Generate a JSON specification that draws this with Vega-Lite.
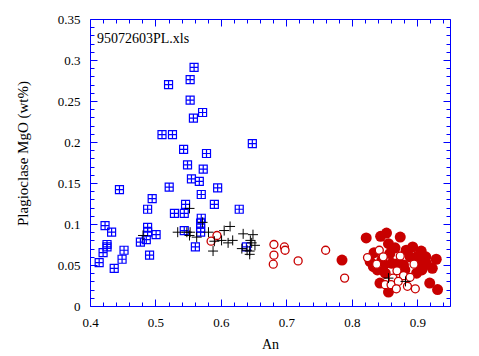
{
  "$schema": "https://vega.github.io/schema/vega-lite/v6.json",
  "width": 360,
  "height": 287,
  "autosize": "none",
  "padding": {"left": 90, "top": 19, "right": 29, "bottom": 50},
  "background": "white",
  "config": {
    "font": "Liberation Serif",
    "view": {"stroke": null},
    "axis": {
      "labelFont": "Liberation Serif",
      "labelFontSize": 13,
      "labelColor": "black",
      "titleFont": "Liberation Serif",
      "titleFontWeight": "normal",
      "titleColor": "black",
      "domainColor": "#0000ff",
      "tickColor": "#0000ff",
      "grid": false,
      "offset": 0
    }
  },
  "title": {
    "text": "95072603PL.xls",
    "anchor": "start",
    "orient": "top",
    "frame": "group",
    "offset": 0,
    "baseline": "top",
    "dx": 7,
    "dy": 33,
    "font": "Liberation Serif",
    "fontSize": 14,
    "fontWeight": "normal",
    "color": "black"
  },
  "data": {
    "values": [
      {"type": "sq", "An": 0.559, "MgO": 0.291},
      {"type": "sq", "An": 0.553, "MgO": 0.276},
      {"type": "sq", "An": 0.520, "MgO": 0.270},
      {"type": "sq", "An": 0.553, "MgO": 0.251},
      {"type": "sq", "An": 0.572, "MgO": 0.236},
      {"type": "sq", "An": 0.558, "MgO": 0.229},
      {"type": "sq", "An": 0.510, "MgO": 0.209},
      {"type": "sq", "An": 0.526, "MgO": 0.209},
      {"type": "sq", "An": 0.648, "MgO": 0.198},
      {"type": "sq", "An": 0.543, "MgO": 0.191},
      {"type": "sq", "An": 0.578, "MgO": 0.186},
      {"type": "sq", "An": 0.549, "MgO": 0.172},
      {"type": "sq", "An": 0.573, "MgO": 0.167},
      {"type": "sq", "An": 0.555, "MgO": 0.155},
      {"type": "sq", "An": 0.567, "MgO": 0.152},
      {"type": "sq", "An": 0.445, "MgO": 0.142},
      {"type": "sq", "An": 0.521, "MgO": 0.145},
      {"type": "sq", "An": 0.595, "MgO": 0.144},
      {"type": "sq", "An": 0.495, "MgO": 0.131},
      {"type": "sq", "An": 0.570, "MgO": 0.136},
      {"type": "sq", "An": 0.590, "MgO": 0.124},
      {"type": "sq", "An": 0.628, "MgO": 0.118},
      {"type": "sq", "An": 0.546, "MgO": 0.124},
      {"type": "sq", "An": 0.488, "MgO": 0.118},
      {"type": "sq", "An": 0.529, "MgO": 0.113},
      {"type": "sq", "An": 0.544, "MgO": 0.113},
      {"type": "sq", "An": 0.570, "MgO": 0.107},
      {"type": "sq", "An": 0.569, "MgO": 0.101},
      {"type": "sq", "An": 0.569, "MgO": 0.095},
      {"type": "sq", "An": 0.569, "MgO": 0.090},
      {"type": "sq", "An": 0.423, "MgO": 0.098},
      {"type": "sq", "An": 0.433, "MgO": 0.090},
      {"type": "sq", "An": 0.488, "MgO": 0.096},
      {"type": "sq", "An": 0.488, "MgO": 0.090},
      {"type": "sq", "An": 0.501, "MgO": 0.087},
      {"type": "sq", "An": 0.544, "MgO": 0.092},
      {"type": "sq", "An": 0.486, "MgO": 0.081},
      {"type": "sq", "An": 0.477, "MgO": 0.078},
      {"type": "sq", "An": 0.426, "MgO": 0.075},
      {"type": "sq", "An": 0.426, "MgO": 0.072},
      {"type": "sq", "An": 0.420, "MgO": 0.065},
      {"type": "sq", "An": 0.452, "MgO": 0.068},
      {"type": "sq", "An": 0.449, "MgO": 0.057},
      {"type": "sq", "An": 0.414, "MgO": 0.053},
      {"type": "sq", "An": 0.437, "MgO": 0.046},
      {"type": "sq", "An": 0.491, "MgO": 0.062},
      {"type": "sq", "An": 0.561, "MgO": 0.072},
      {"type": "sq", "An": 0.639, "MgO": 0.072},

      {"type": "filled", "An": 0.785, "MgO": 0.056},
      {"type": "filled", "An": 0.822, "MgO": 0.083},
      {"type": "filled", "An": 0.844, "MgO": 0.085},
      {"type": "filled", "An": 0.853, "MgO": 0.089},
      {"type": "filled", "An": 0.856, "MgO": 0.076},
      {"type": "filled", "An": 0.874, "MgO": 0.084},
      {"type": "filled", "An": 0.893, "MgO": 0.072},
      {"type": "filled", "An": 0.906, "MgO": 0.067},
      {"type": "filled", "An": 0.913, "MgO": 0.060},
      {"type": "filled", "An": 0.929, "MgO": 0.057},
      {"type": "filled", "An": 0.923, "MgO": 0.046},
      {"type": "filled", "An": 0.919, "MgO": 0.028},
      {"type": "filled", "An": 0.931, "MgO": 0.020},
      {"type": "filled", "An": 0.833, "MgO": 0.048},
      {"type": "filled", "An": 0.846, "MgO": 0.056},
      {"type": "filled", "An": 0.858, "MgO": 0.064},
      {"type": "filled", "An": 0.861, "MgO": 0.052},
      {"type": "filled", "An": 0.851, "MgO": 0.040},
      {"type": "filled", "An": 0.881, "MgO": 0.044},
      {"type": "filled", "An": 0.889, "MgO": 0.060},
      {"type": "filled", "An": 0.904, "MgO": 0.052},
      {"type": "filled", "An": 0.899, "MgO": 0.040},
      {"type": "filled", "An": 0.914, "MgO": 0.052},
      {"type": "filled", "An": 0.843, "MgO": 0.028},
      {"type": "filled", "An": 0.856, "MgO": 0.017},
      {"type": "filled", "An": 0.879, "MgO": 0.050},
      {"type": "filled", "An": 0.828, "MgO": 0.054},
      {"type": "filled", "An": 0.866, "MgO": 0.071},
      {"type": "filled", "An": 0.839, "MgO": 0.044},
      {"type": "filled", "An": 0.883, "MgO": 0.068},
      {"type": "filled", "An": 0.901, "MgO": 0.061},
      {"type": "filled", "An": 0.871, "MgO": 0.052},
      {"type": "filled", "An": 0.907, "MgO": 0.044},
      {"type": "filled", "An": 0.849, "MgO": 0.050},
      {"type": "filled", "An": 0.834, "MgO": 0.065},

      {"type": "open", "An": 0.585, "MgO": 0.079},
      {"type": "open", "An": 0.594, "MgO": 0.086},
      {"type": "open", "An": 0.681, "MgO": 0.075},
      {"type": "open", "An": 0.681, "MgO": 0.062},
      {"type": "open", "An": 0.680, "MgO": 0.051},
      {"type": "open", "An": 0.697, "MgO": 0.072},
      {"type": "open", "An": 0.698, "MgO": 0.068},
      {"type": "open", "An": 0.718, "MgO": 0.055},
      {"type": "open", "An": 0.760, "MgO": 0.068},
      {"type": "open", "An": 0.789, "MgO": 0.034},
      {"type": "open", "An": 0.824, "MgO": 0.059},
      {"type": "open", "An": 0.842, "MgO": 0.068},
      {"type": "open", "An": 0.838, "MgO": 0.051},
      {"type": "open", "An": 0.848, "MgO": 0.060},
      {"type": "open", "An": 0.874, "MgO": 0.061},
      {"type": "open", "An": 0.895, "MgO": 0.051},
      {"type": "open", "An": 0.869, "MgO": 0.043},
      {"type": "open", "An": 0.879, "MgO": 0.037},
      {"type": "open", "An": 0.863, "MgO": 0.034},
      {"type": "open", "An": 0.851, "MgO": 0.026},
      {"type": "open", "An": 0.860, "MgO": 0.026},
      {"type": "open", "An": 0.871, "MgO": 0.030},
      {"type": "open", "An": 0.889, "MgO": 0.035},
      {"type": "open", "An": 0.885, "MgO": 0.024},
      {"type": "open", "An": 0.897, "MgO": 0.021},
      {"type": "open", "An": 0.868, "MgO": 0.021},

      {"type": "cross", "An": 0.552, "MgO": 0.119},
      {"type": "cross", "An": 0.481, "MgO": 0.086},
      {"type": "cross", "An": 0.534, "MgO": 0.090},
      {"type": "cross", "An": 0.548, "MgO": 0.090},
      {"type": "cross", "An": 0.553, "MgO": 0.090},
      {"type": "cross", "An": 0.552, "MgO": 0.086},
      {"type": "cross", "An": 0.572, "MgO": 0.102},
      {"type": "cross", "An": 0.581, "MgO": 0.090},
      {"type": "cross", "An": 0.563, "MgO": 0.084},
      {"type": "cross", "An": 0.590, "MgO": 0.079},
      {"type": "cross", "An": 0.588, "MgO": 0.067},
      {"type": "cross", "An": 0.605, "MgO": 0.092},
      {"type": "cross", "An": 0.614, "MgO": 0.097},
      {"type": "cross", "An": 0.601, "MgO": 0.080},
      {"type": "cross", "An": 0.611, "MgO": 0.077},
      {"type": "cross", "An": 0.618, "MgO": 0.080},
      {"type": "cross", "An": 0.634, "MgO": 0.088},
      {"type": "cross", "An": 0.649, "MgO": 0.087},
      {"type": "cross", "An": 0.645, "MgO": 0.080},
      {"type": "cross", "An": 0.647, "MgO": 0.077},
      {"type": "cross", "An": 0.632, "MgO": 0.070},
      {"type": "cross", "An": 0.640, "MgO": 0.068},
      {"type": "cross", "An": 0.644, "MgO": 0.063},
      {"type": "cross", "An": 0.652, "MgO": 0.074},
      {"type": "cross", "An": 0.644, "MgO": 0.067},
      {"type": "cross", "An": 0.856, "MgO": 0.034},
      {"type": "cross", "An": 0.882, "MgO": 0.030}
    ]
  },
  "resolve": {"axis": {"x": "independent", "y": "independent"}},
  "layer": [
    {
      "transform": [{"filter": "datum.type === 'sq'"}],
      "mark": {"type": "point", "shape": "M-1,-1H1V1H-1Z M0,-1V1 M-1,0H1", "filled": false, "stroke": "#0000ff", "strokeWidth": 1.2, "size": 64, "opacity": 1},
      "encoding": {
        "x": {"field": "An", "type": "quantitative",
          "scale": {"domain": [0.4, 0.95], "nice": false, "zero": false},
          "axis": {"orient": "bottom", "title": "An", "titleFontSize": 14, "titleX": 180, "titleY": 38, "titleBaseline": "middle",
            "values": [0.4, 0.5, 0.6, 0.7, 0.8, 0.9], "format": "~g", "tickSize": -7, "labelPadding": 17.5, "domain": true, "labelFlush": false}},
        "y": {"field": "MgO", "type": "quantitative",
          "scale": {"domain": [0, 0.35], "nice": false, "zero": false},
          "axis": {"orient": "left", "title": "Plagioclase MgO (wt%)", "titleFontSize": 15, "titleX": -68, "titleY": 134, "titleAngle": -90, "titleAlign": "center", "titleBaseline": "middle",
            "values": [0, 0.05, 0.1, 0.15, 0.2, 0.25, 0.3, 0.35], "format": "~g", "tickSize": -7, "labelPadding": 17, "domain": true, "labelFlush": false}}
      }
    },
    {
      "transform": [{"filter": "datum.type === 'filled'"}],
      "mark": {"type": "point", "shape": "circle", "filled": true, "fill": "#c80000", "strokeWidth": 0, "size": 121, "opacity": 1},
      "encoding": {
        "x": {"field": "An", "type": "quantitative",
          "scale": {"domain": [0.4, 0.95], "nice": false, "zero": false},
          "axis": {"orient": "bottom", "title": null, "labels": false, "domain": false, "tickSize": -4,
            "values": [0.42, 0.44, 0.46, 0.48, 0.52, 0.54, 0.56, 0.58, 0.62, 0.64, 0.66, 0.68, 0.72, 0.74, 0.76, 0.78, 0.82, 0.84, 0.86, 0.88, 0.92, 0.94]}},
        "y": {"field": "MgO", "type": "quantitative",
          "scale": {"domain": [0, 0.35], "nice": false, "zero": false},
          "axis": {"orient": "left", "title": null, "labels": false, "domain": false, "tickSize": -4,
            "values": [0.01, 0.02, 0.03, 0.04, 0.06, 0.07, 0.08, 0.09, 0.11, 0.12, 0.13, 0.14, 0.16, 0.17, 0.18, 0.19, 0.21, 0.22, 0.23, 0.24, 0.26, 0.27, 0.28, 0.29, 0.31, 0.32, 0.33, 0.34]}}
      }
    },
    {
      "transform": [{"filter": "datum.type === 'open'"}],
      "mark": {"type": "point", "shape": "circle", "filled": false, "fill": "white", "stroke": "#c80000", "strokeWidth": 1.3, "size": 64, "opacity": 1},
      "encoding": {
        "x": {"field": "An", "type": "quantitative",
          "scale": {"domain": [0.4, 0.95], "nice": false, "zero": false},
          "axis": {"orient": "top", "title": null, "labels": false, "domain": true, "tickSize": -7,
            "values": [0.4, 0.5, 0.6, 0.7, 0.8, 0.9]}},
        "y": {"field": "MgO", "type": "quantitative",
          "scale": {"domain": [0, 0.35], "nice": false, "zero": false},
          "axis": {"orient": "right", "title": null, "labels": false, "domain": true, "tickSize": -7,
            "values": [0, 0.05, 0.1, 0.15, 0.2, 0.25, 0.3, 0.35]}}
      }
    },
    {
      "transform": [{"filter": "datum.type === 'cross'"}],
      "mark": {"type": "point", "shape": "M-1,0H1 M0,-1V1", "filled": false, "stroke": "black", "strokeWidth": 1, "size": 100, "opacity": 1},
      "encoding": {
        "x": {"field": "An", "type": "quantitative",
          "scale": {"domain": [0.4, 0.95], "nice": false, "zero": false},
          "axis": {"orient": "top", "title": null, "labels": false, "domain": false, "tickSize": -4,
            "values": [0.42, 0.44, 0.46, 0.48, 0.52, 0.54, 0.56, 0.58, 0.62, 0.64, 0.66, 0.68, 0.72, 0.74, 0.76, 0.78, 0.82, 0.84, 0.86, 0.88, 0.92, 0.94]}},
        "y": {"field": "MgO", "type": "quantitative",
          "scale": {"domain": [0, 0.35], "nice": false, "zero": false},
          "axis": {"orient": "right", "title": null, "labels": false, "domain": false, "tickSize": -4,
            "values": [0.01, 0.02, 0.03, 0.04, 0.06, 0.07, 0.08, 0.09, 0.11, 0.12, 0.13, 0.14, 0.16, 0.17, 0.18, 0.19, 0.21, 0.22, 0.23, 0.24, 0.26, 0.27, 0.28, 0.29, 0.31, 0.32, 0.33, 0.34]}}
      }
    }
  ]
}
